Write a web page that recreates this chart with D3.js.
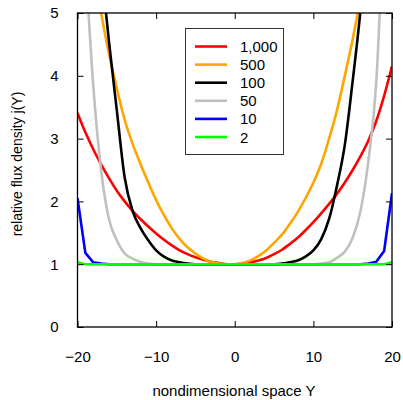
<!DOCTYPE html>
<html>
<head>
<meta charset="utf-8">
<script src="https://cdn.jsdelivr.net/npm/d3@7"></script>
<style>
  html, body { margin: 0; padding: 0; background: #fff; }
  svg { display: block; font-family: "Liberation Sans", Arial, Helvetica, sans-serif; }
</style>
</head>
<body>
<svg id="chart" width="403" height="400"></svg>
<script>
// ---- data ----
const Y = [-20,-19,-18,-17,-16,-15,-14,-13,-12,-11,-10,-9,-8,-7,-6,-5,-4,-3,-2,-1,0,
           1,2,3,4,5,6,7,8,9,10,11,12,13,14,15,16,17,18,19,20];
const seriesNames = ["1,000", "500", "100", "50", "10", "2"];
const seriesColors = ["#ff0000", "#ffa500", "#000000", "#c0c0c0", "#0000ff", "#00ff00"];
const j1000 = [3.41,3.10,2.83,2.59,2.37,2.17,2.00,1.85,1.72,1.60,1.49,1.39,1.30,1.22,1.16,1.11,1.07,1.04,1.02,1.00,1.00,
               1.01,1.03,1.06,1.10,1.16,1.23,1.32,1.42,1.54,1.67,1.81,1.96,2.12,2.30,2.50,2.72,2.97,3.28,3.68,4.15];
const j500  = [7.40,6.50,5.70,5.00,4.35,3.80,3.30,2.92,2.60,2.30,2.02,1.78,1.57,1.40,1.27,1.17,1.09,1.04,1.01,1.00,1.00,
               1.02,1.06,1.13,1.22,1.34,1.47,1.64,1.83,2.05,2.30,2.60,3.00,3.45,4.00,4.58,5.22,5.90,6.70,7.60,8.60];
const j100  = [11.0,8.80,7.10,5.75,4.55,3.45,2.38,1.85,1.58,1.38,1.22,1.12,1.06,1.03,1.01,1.00,1.00,1.00,1.00,1.00,1.00,
               1.00,1.00,1.00,1.00,1.00,1.01,1.03,1.06,1.12,1.22,1.40,1.72,2.25,2.90,3.92,5.05,6.50,8.30,10.5,13.0];
const j50   = [8.50,5.90,3.85,2.50,1.72,1.38,1.17,1.09,1.04,1.01,1.00,1.00,1.00,1.00,1.00,1.00,1.00,1.00,1.00,1.00,1.00,
               1.00,1.00,1.00,1.00,1.00,1.00,1.00,1.00,1.00,1.00,1.01,1.03,1.10,1.20,1.42,1.85,2.65,3.90,6.70,10.0];
const j10   = [2.05,1.18,1.03,1.01,1.00,1.00,1.00,1.00,1.00,1.00,1.00,1.00,1.00,1.00,1.00,1.00,1.00,1.00,1.00,1.00,1.00,
               1.00,1.00,1.00,1.00,1.00,1.00,1.00,1.00,1.00,1.00,1.00,1.00,1.00,1.00,1.00,1.00,1.01,1.04,1.21,2.13];
const j2    = [1.03,1.00,1.00,1.00,1.00,1.00,1.00,1.00,1.00,1.00,1.00,1.00,1.00,1.00,1.00,1.00,1.00,1.00,1.00,1.00,1.00,
               1.00,1.00,1.00,1.00,1.00,1.00,1.00,1.00,1.00,1.00,1.00,1.00,1.00,1.00,1.00,1.00,1.00,1.00,1.00,1.03];
const seriesValues = [j1000, j500, j100, j50, j10, j2];
const xTicks = [-20, -10, 0, 10, 20];
const yTicks = [0, 1, 2, 3, 4, 5];
const xLabel = "nondimensional space Y";
const yLabel = "relative flux density j(Y)";

// ---- layout ----
const svg = d3.select("#chart");
const L = 77.5, R = 392, T = 13, B = 327;
const x = d3.scaleLinear().domain([-20, 20]).range([L, R]);
const y = d3.scaleLinear().domain([0, 5]).range([B, T]);

svg.append("defs").append("clipPath").attr("id", "clip")
  .append("rect").attr("x", L).attr("y", T).attr("width", R - L).attr("height", B - T);

const curves = [d3.curveMonotoneX, d3.curveMonotoneX, d3.curveMonotoneX, d3.curveMonotoneX, d3.curveLinear, d3.curveLinear];
const plot = svg.append("g").attr("clip-path", "url(#clip)");
seriesValues.forEach((vals, i) => {
  const line = d3.line().x((d, k) => x(Y[k])).y(d => y(d)).curve(curves[i]);
  plot.append("path").datum(vals)
    .attr("d", line)
    .attr("fill", "none")
    .attr("stroke", seriesColors[i])
    .attr("stroke-width", 2.6)
    .attr("stroke-linejoin", "round");
});

// axes (ticks inward, mirrored)
const tickLen = 6;
const fmt = d3.format("d");
const axB = svg.append("g").attr("transform", `translate(0,${B})`)
  .call(d3.axisBottom(x).tickValues(xTicks).tickSize(-tickLen).tickPadding(24).tickFormat(fmt));
const axT = svg.append("g").attr("transform", `translate(0,${T})`)
  .call(d3.axisTop(x).tickValues(xTicks).tickSize(-tickLen).tickFormat(""));
const axL = svg.append("g").attr("transform", `translate(${L},0)`)
  .call(d3.axisLeft(y).tickValues(yTicks).tickSize(-tickLen).tickPadding(19).tickFormat(fmt));
const axR = svg.append("g").attr("transform", `translate(${R},0)`)
  .call(d3.axisRight(y).tickValues(yTicks).tickSize(-tickLen).tickFormat(""));
[axB, axT, axL, axR].forEach(a => {
  a.select(".domain").remove();
  a.selectAll(".tick line").attr("stroke", "#000").attr("stroke-width", 1);
  a.selectAll("text").attr("font-size", 15).attr("fill", "#000")
    .attr("font-family", "'Liberation Sans', Arial, sans-serif");
});

// frame
svg.append("rect").attr("x", L).attr("y", T).attr("width", R - L).attr("height", B - T)
  .attr("fill", "none").attr("stroke", "#000").attr("stroke-width", 1.3);

// axis labels
svg.append("text").attr("x", 234).attr("y", 396)
  .attr("text-anchor", "middle").attr("font-size", 15).text(xLabel);
svg.append("text").attr("transform", `translate(22,164) rotate(-90)`)
  .attr("text-anchor", "middle").attr("font-size", 14).text(yLabel);

// legend
const lg = svg.append("g");
lg.append("rect").attr("x", 185.5).attr("y", 28.5).attr("width", 98).attr("height", 126)
  .attr("fill", "#fff").attr("stroke", "#333").attr("stroke-width", 1);
seriesNames.forEach((name, i) => {
  const yy = 46.5 + i * 18.1;
  lg.append("line").attr("x1", 195).attr("x2", 227).attr("y1", yy).attr("y2", yy)
    .attr("stroke", seriesColors[i]).attr("stroke-width", 2.6);
  lg.append("text").attr("x", 240).attr("y", yy + 5.5).attr("font-size", 15).text(name);
});
</script>
</body>
</html>
